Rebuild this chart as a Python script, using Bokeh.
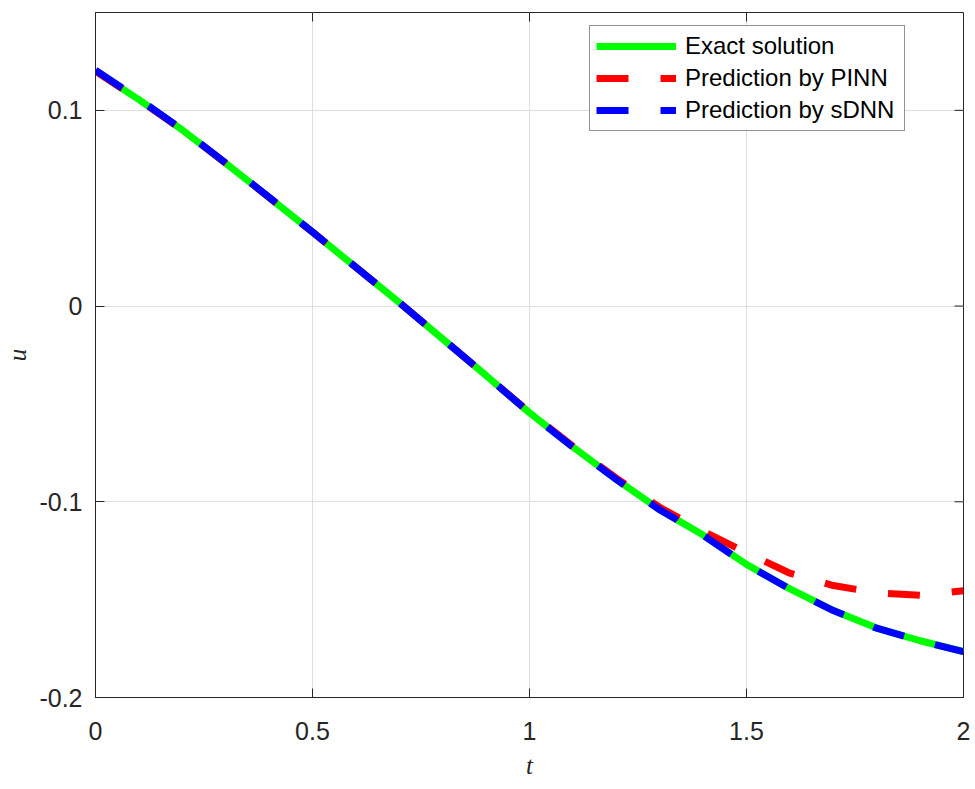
from bokeh.plotting import figure
from bokeh.models import Range1d, FixedTicker, CustomJSTickFormatter, Legend, LegendItem
from bokeh.embed import file_html
from bokeh.resources import INLINE

# ---- data ----
t_vals = [0.0, 0.1, 0.2, 0.3, 0.4, 0.5, 0.6, 0.7, 0.8, 0.9, 1.0,
          1.1, 1.2, 1.3, 1.4, 1.5, 1.6, 1.7, 1.8, 1.9, 2.0]
u_exact = [0.120, 0.1055, 0.0900, 0.0730, 0.0555, 0.0378, 0.0198, 0.0018, -0.0168, -0.0355, -0.0545,
           -0.0720, -0.0885, -0.1040, -0.1170, -0.1320, -0.1445, -0.1555, -0.1645, -0.1710, -0.1765]
u_pinn = [0.120, 0.1055, 0.0900, 0.0730, 0.0555, 0.0378, 0.0198, 0.0018, -0.0168, -0.0355, -0.0543,
          -0.0716, -0.0879, -0.1028, -0.1150, -0.1260, -0.1365, -0.1428, -0.1465, -0.1478, -0.1455]
u_sdnn = [0.1205, 0.1057, 0.0902, 0.0731, 0.0556, 0.0378, 0.0198, 0.0018, -0.0168, -0.0355, -0.0545,
          -0.0721, -0.0886, -0.1041, -0.1171, -0.1321, -0.1446, -0.1556, -0.1646, -0.1711, -0.1766]
x_ticks = [0, 0.5, 1, 1.5, 2]
y_ticks = [-0.2, -0.1, 0, 0.1]
series_labels = ["Exact solution", "Prediction by PINN", "Prediction by sDNN"]

AX = "#262626"
FONT = "Liberation Sans"
X0, X1, Y0, Y1 = 0, 2, -0.2, 0.15
W, H = 975, 789
BL, BR, BT, BB = 95, 12, 12, 92
TICK = 9

p = figure(width=W, height=H, output_backend="svg", toolbar_location=None,
           x_range=Range1d(X0, X1), y_range=Range1d(Y0, Y1),
           min_border_left=BL, min_border_right=BR, min_border_top=BT, min_border_bottom=BB)
p.outline_line_color = AX
p.outline_line_width = 1

fmt = CustomJSTickFormatter(code="return String(Math.round(tick*10)/10);")

for ax in (p.xaxis[0], p.yaxis[0]):
    ax.major_tick_in = TICK
    ax.major_tick_out = 0
    ax.minor_tick_line_color = None
    ax.axis_line_color = AX
    ax.major_tick_line_color = AX
    ax.major_label_text_font = FONT
    ax.major_label_text_font_size = "25px"
    ax.major_label_text_color = AX
    ax.formatter = fmt
    ax.axis_label_text_font = "Liberation Serif"
    ax.axis_label_text_font_style = "italic"
    ax.axis_label_text_font_size = "25px"
    ax.axis_label_text_color = AX

p.xaxis[0].ticker = FixedTicker(ticks=x_ticks)
p.yaxis[0].ticker = FixedTicker(ticks=y_ticks)
p.xaxis[0].axis_label = "t"
p.yaxis[0].axis_label = "u"
p.xaxis[0].major_label_standoff = 24
p.yaxis[0].major_label_standoff = 13
p.xaxis[0].axis_label_standoff = 9
p.yaxis[0].axis_label_standoff = 5

p.xgrid.ticker = FixedTicker(ticks=x_ticks)
p.ygrid.ticker = FixedTicker(ticks=y_ticks)
p.grid.grid_line_color = "#dfdfdf"
p.grid.grid_line_width = 1

# inward ticks on the top and right sides of the box
dy = TICK * (Y1 - Y0) / (H - BT - BB)
dx = TICK * (X1 - X0) / (W - BL - BR)
p.segment(x0=x_ticks, y0=[Y1] * len(x_ticks), x1=x_ticks, y1=[Y1 - dy] * len(x_ticks),
          line_color=AX, line_width=1)
p.segment(x0=[X1] * len(y_ticks), y0=y_ticks, x1=[X1 - dx] * len(y_ticks), y1=y_ticks,
          line_color=AX, line_width=1)

r_exact = p.line(t_vals, u_exact, line_color="#00ff00", line_width=7)
r_pinn = p.line(t_vals, u_pinn, line_color="#ff0000", line_width=7, line_dash="32 32")
r_sdnn = p.line(t_vals, u_sdnn, line_color="#0000ff", line_width=7, line_dash="32 32")

legend = Legend(items=[LegendItem(label=series_labels[0], renderers=[r_exact]),
                       LegendItem(label=series_labels[1], renderers=[r_pinn]),
                       LegendItem(label=series_labels[2], renderers=[r_sdnn])],
                location=(494, 566))
legend.label_text_font = FONT
legend.label_text_font_size = "24px"
legend.label_text_color = "#000000"
legend.glyph_width = 80
legend.glyph_height = 24
legend.label_height = 24
legend.label_width = 213
legend.spacing = 4
legend.padding = 6
legend.margin = 0
legend.label_standoff = 9
legend.border_line_color = AX
legend.border_line_width = 1
legend.background_fill_color = "white"
legend.background_fill_alpha = 1
p.add_layout(legend, "center")

open("out.html", "w").write(file_html(p, INLINE))
